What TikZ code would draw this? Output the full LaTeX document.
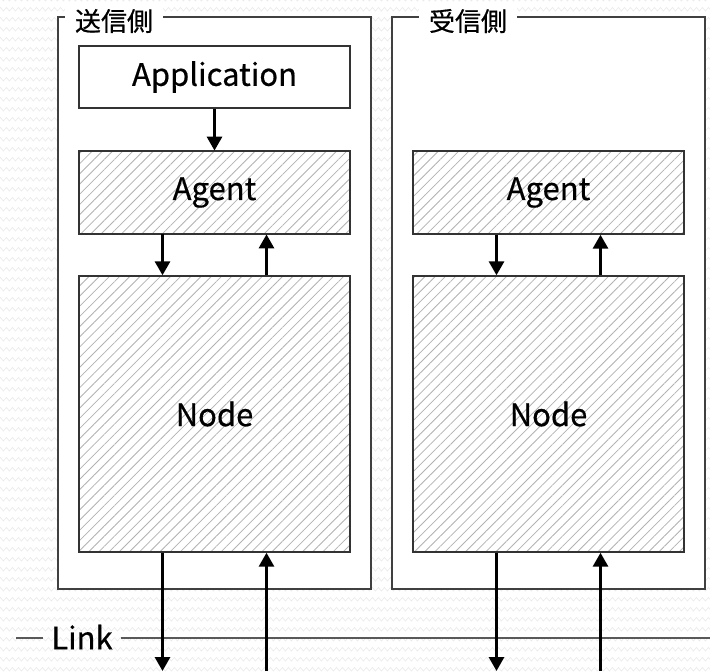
\documentclass[tikz,border=0pt]{standalone}
\usepackage{fontspec}
\setmainfont{Noto Sans CJK JP}[FakeBold=0.5]
\usetikzlibrary{arrows.meta,patterns.meta}

\tikzdeclarepattern{
  name=wavy,
  type=uncolored,
  bounding box={(0pt,0pt) and (3.2pt,5pt)},
  tile size={(3.2pt,5pt)},
  code={
    \draw[line width=0.35pt] (0pt,1.5pt) sin (0.8pt,2.5pt) cos (1.6pt,1.5pt)
      sin (2.4pt,0.5pt) cos (3.2pt,1.5pt);
  }
}

\begin{document}
\begin{tikzpicture}[
  x=0.5pt,y=-0.5pt,line width=0.7pt,
  every node/.style={inner sep=0pt},
  group box/.style={draw=black!75,fill=white,minimum width=156.5pt,minimum height=286pt},
  group title/.style={fill=white,inner xsep=5pt,inner ysep=1pt,font=\fontsize{13}{15}\selectfont},
  block/.style={draw=black!80,minimum width=135.5pt,font=\fontsize{15.5}{18}\selectfont},
  hatched/.style={block,preaction={fill=white},
    pattern={Lines[angle=45,distance=3.6pt,line width=0.4pt]},pattern color=black!30},
  link label/.style={inner xsep=4pt,font=\fontsize{15.5}{18}\selectfont},
  flow/.style={line width=1.5pt,-{Triangle[width=7.5pt,length=7pt]}}
]
  \useasboundingbox (0,0) rectangle (710,671);
  \fill[white] (0,0) rectangle (710,671);
  \fill[pattern=wavy,pattern color=black!8] (0,0) rectangle (710,671);

  % sender side
  \node[group box] (sender) at (214.5,303) {};
  \node[group title] (senderT) at (114,21) {送信側};
  \node[block,minimum height=31pt] (app) at (214.5,77) {Application};
  \node[hatched,minimum height=41.5pt] (agentL) at (214.5,192.5) {Agent};
  \node[hatched,minimum height=138pt] (nodeL) at (214.5,414) {Node};

  % receiver side
  \node[group box] (receiver) at (548.5,303) {};
  \node[group title] (receiverT) at (468,21) {受信側};
  \node[hatched,minimum height=41.5pt] (agentR) at (548.5,192.5) {Agent};
  \node[hatched,minimum height=138pt] (nodeR) at (548.5,414) {Node};

  % link
  \node[link label] (link) at (82,637) {Link};
  \coordinate (linkW) at (16,638);
  \coordinate (linkE) at (710,638);
  \coordinate (bottom) at (0,671);
  \draw[black!65] (linkW) -- (linkW -| link.west);
  \draw[black!65] (linkE -| link.east) -- (linkE);

  \draw[flow] (app) -- (agentL);
  \foreach \side in {L,R} {
    \draw[flow] ([xshift=-26pt]agent\side.south) -- ([xshift=-26pt]node\side.north);
    \draw[flow] ([xshift=26pt]node\side.north) -- ([xshift=26pt]agent\side.south);
    \draw[flow] ([xshift=-26pt]node\side.south) -- ([xshift=-26pt]node\side.south |- bottom);
    \draw[flow] ([xshift=26pt]node\side.south |- bottom) -- ([xshift=26pt]node\side.south);
  }
\end{tikzpicture}
\end{document}
